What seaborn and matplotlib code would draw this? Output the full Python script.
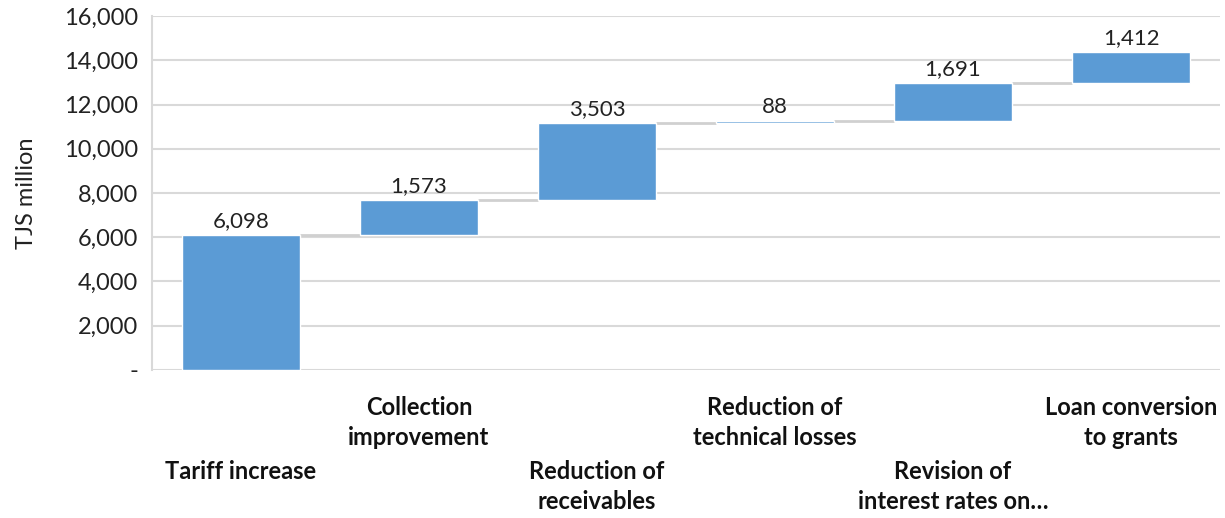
import numpy as np
import pandas as pd
import matplotlib
matplotlib.use("Agg")
import matplotlib.pyplot as plt
import matplotlib.ticker as mticker
import seaborn as sns

# Contributions (TJS million)
categories = [
    "Tariff increase",
    "Collection\nimprovement",
    "Reduction of\nreceivables",
    "Reduction of\ntechnical losses",
    "Revision of\ninterest rates on…",
    "Loan conversion\nto grants",
]
values = [6098, 1573, 3503, 88, 1691, 1412]
y_ticks = [0, 2000, 4000, 6000, 8000, 10000, 12000, 14000, 16000]

ends = np.cumsum(values)
starts = ends - np.array(values)
df = pd.DataFrame({"category": categories, "value": values, "start": starts, "end": ends})

sns.set_theme(style="white")
plt.rcParams["font.family"] = ["Lato", "DejaVu Sans"]

fig = plt.figure(figsize=(12.25, 5.18), dpi=100)
ax = fig.add_axes([0.124, 0.286, 0.872, 0.683])

bar_color = "#5b9bd5"
grid_color = "#d9d9d9"
bar_w = 0.663

sns.barplot(data=df, x="category", y="value", bottom=df["start"], color=bar_color,
            width=bar_w, saturation=1, ax=ax, zorder=3)

# connectors between consecutive bars
for i in range(len(values) - 1):
    ax.hlines(df["end"][i], i + bar_w / 2, i + 1 - bar_w / 2,
              color="#d0d0d0", linewidth=2, zorder=2)

# value labels
for i, (v, e) in enumerate(zip(values, ends)):
    ax.annotate(f"{v:,}", (i, e), xytext=(0, 3), textcoords="offset points",
                ha="center", va="bottom", fontsize=16, color="#222222")

ax.set_xlim(-0.5, len(values) - 0.5)
ax.set_ylim(0, 16000)
ax.set_yticks(y_ticks)
ax.yaxis.set_major_formatter(mticker.FuncFormatter(lambda v, p: "-" if v == 0 else f"{int(v):,}"))
ax.tick_params(axis="y", labelsize=17, length=0, pad=10, labelcolor="#222222")
ax.set_ylabel("TJS million", fontsize=17, color="#222222", labelpad=19)
ax.set_xlabel("")
ax.set_xticks([])
ax.yaxis.grid(True, color=grid_color, linewidth=1.5, zorder=0)
ax.set_axisbelow(True)

for s in ["top", "right", "bottom"]:
    ax.spines[s].set_visible(False)
ax.spines["left"].set_color(grid_color)
ax.spines["left"].set_linewidth(1.5)

# staggered category labels
trans = ax.get_xaxis_transform()
for i, lab in enumerate(categories):
    y = -0.075 if i % 2 == 1 else -0.255
    ax.text(i, y, lab, transform=trans, ha="center", va="top", fontsize=17,
            fontweight="bold", color="#111111", linespacing=1.35)

fig.savefig("out.png", dpi=100)
